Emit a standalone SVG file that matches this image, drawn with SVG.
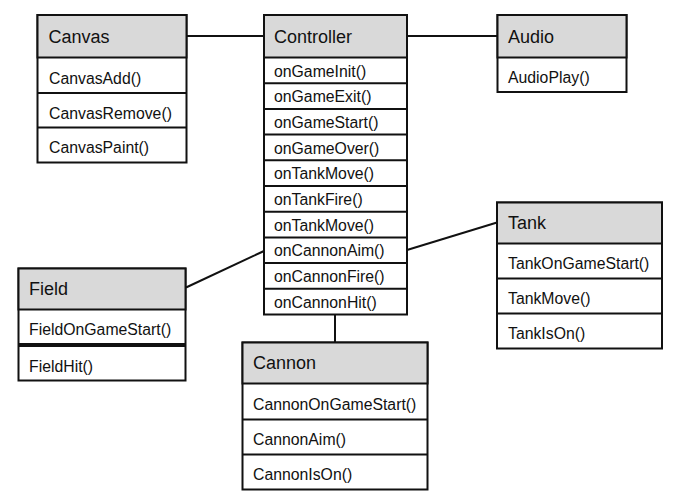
<svg xmlns="http://www.w3.org/2000/svg" width="676" height="504" viewBox="0 0 676 504">
<style>
.box{fill:#ffffff;stroke:#111;stroke-width:2}
.hd{fill:#d9d9d9;stroke:#111;stroke-width:2}
.sep{stroke:#111;stroke-width:2}
.ht{font-family:"Liberation Sans",Arial,sans-serif;font-size:18px;fill:#111}
.rt{font-family:"Liberation Sans",Arial,sans-serif;font-size:15.8px;fill:#111}
.con{stroke:#111;stroke-width:2;fill:none}
</style>
<rect width="676" height="504" fill="#ffffff"/>
<g id="connectors">
<line class="con" x1="186.5" y1="36" x2="264" y2="36"/>
<line class="con" x1="407" y1="36" x2="497.5" y2="36"/>
<line class="con" x1="186" y1="287.5" x2="264" y2="251"/>
<line class="con" x1="407" y1="250" x2="497" y2="222.5"/>
<line class="con" x1="335" y1="314.5" x2="335" y2="342.5"/>
</g>
<g id="canvas">
<rect class="box" x="37.5" y="15" width="149" height="147.5"/>
<rect class="hd" x="37.5" y="15" width="149" height="42.5"/>
<line class="sep" x1="37.5" y1="93" x2="186.5" y2="93"/>
<line class="sep" x1="37.5" y1="127.5" x2="186.5" y2="127.5"/>
<text class="ht" x="48.5" y="42.5">Canvas</text>
<text class="rt" x="49" y="83.5">CanvasAdd()</text>
<text class="rt" x="49" y="118.5">CanvasRemove()</text>
<text class="rt" x="49" y="153">CanvasPaint()</text>
</g>
<g id="controller">
<rect class="box" x="264" y="15" width="143" height="299.5"/>
<rect class="hd" x="264" y="15" width="143" height="42.5"/>
<line class="sep" x1="264" y1="83.2" x2="407" y2="83.2"/>
<line class="sep" x1="264" y1="108.9" x2="407" y2="108.9"/>
<line class="sep" x1="264" y1="134.6" x2="407" y2="134.6"/>
<line class="sep" x1="264" y1="160.3" x2="407" y2="160.3"/>
<line class="sep" x1="264" y1="186" x2="407" y2="186"/>
<line class="sep" x1="264" y1="211.7" x2="407" y2="211.7"/>
<line class="sep" x1="264" y1="237.4" x2="407" y2="237.4"/>
<line class="sep" x1="264" y1="263.1" x2="407" y2="263.1"/>
<line class="sep" x1="264" y1="288.8" x2="407" y2="288.8"/>
<text class="ht" x="274" y="42.5">Controller</text>
<text class="rt" x="274" y="76.5">onGameInit()</text>
<text class="rt" x="274" y="102.2">onGameExit()</text>
<text class="rt" x="274" y="127.9">onGameStart()</text>
<text class="rt" x="274" y="153.6">onGameOver()</text>
<text class="rt" x="274" y="179.3">onTankMove()</text>
<text class="rt" x="274" y="205">onTankFire()</text>
<text class="rt" x="274" y="230.7">onTankMove()</text>
<text class="rt" x="274" y="256.4">onCannonAim()</text>
<text class="rt" x="274" y="282.1">onCannonFire()</text>
<text class="rt" x="274" y="307.8">onCannonHit()</text>
</g>
<g id="audio">
<rect class="box" x="497.5" y="15" width="129" height="77"/>
<rect class="hd" x="497.5" y="15" width="129" height="42.5"/>
<text class="ht" x="508" y="42.5">Audio</text>
<text class="rt" x="508" y="82.5">AudioPlay()</text>
</g>
<g id="tank">
<rect class="box" x="497" y="202.5" width="165" height="146"/>
<rect class="hd" x="497" y="202.5" width="165" height="41"/>
<line class="sep" x1="497" y1="278.5" x2="662" y2="278.5"/>
<line class="sep" x1="497" y1="313.5" x2="662" y2="313.5"/>
<text class="ht" x="508" y="229">Tank</text>
<text class="rt" x="508" y="269">TankOnGameStart()</text>
<text class="rt" x="508" y="304">TankMove()</text>
<text class="rt" x="508" y="339">TankIsOn()</text>
</g>
<g id="field">
<rect class="box" x="18.5" y="268.5" width="167" height="112"/>
<rect class="hd" x="18.5" y="268.5" width="167" height="41"/>
<line class="sep" x1="18.5" y1="344" x2="185.5" y2="344"/>
<line class="sep" x1="18.5" y1="346" x2="185.5" y2="346"/>
<text class="ht" x="29" y="295">Field</text>
<text class="rt" x="29" y="334.5">FieldOnGameStart()</text>
<text class="rt" x="29" y="371.5">FieldHit()</text>
</g>
<g id="cannon">
<rect class="box" x="242.5" y="342.5" width="185" height="147"/>
<rect class="hd" x="242.5" y="342.5" width="185" height="41"/>
<line class="sep" x1="242.5" y1="419.5" x2="427.5" y2="419.5"/>
<line class="sep" x1="242.5" y1="454.5" x2="427.5" y2="454.5"/>
<text class="ht" x="253" y="369">Cannon</text>
<text class="rt" x="253" y="409.5">CannonOnGameStart()</text>
<text class="rt" x="253" y="445">CannonAim()</text>
<text class="rt" x="253" y="480">CannonIsOn()</text>
</g>
</svg>
